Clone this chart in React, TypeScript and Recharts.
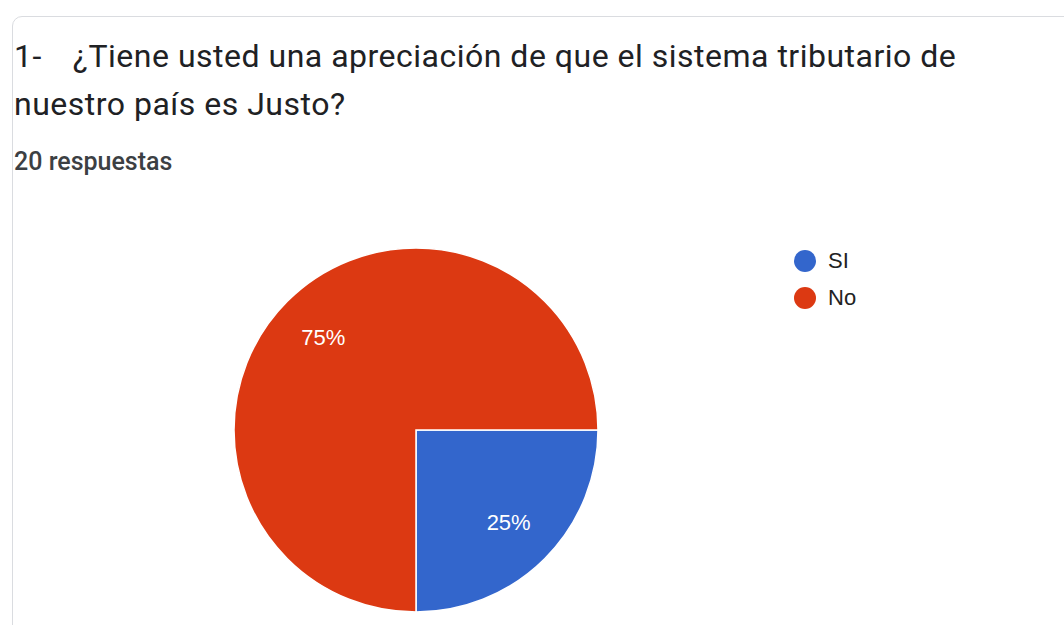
import React from "react";
import { PieChart, Pie, Cell, Legend } from "recharts";

const categories = ["SI", "No"];
const counts = [5, 15];
const colors = ["#3366cc", "#dc3912"];

const data = categories.map((name, i) => ({ name, value: counts[i] }));

const RADIAN = Math.PI / 180;

const renderLabel = (props: any) => {
  const { cx, cy, midAngle, outerRadius, percent } = props;
  const r = outerRadius * 0.72;
  const x = cx + r * Math.cos(-midAngle * RADIAN);
  const y = cy + r * Math.sin(-midAngle * RADIAN);
  return (
    <text
      x={x}
      y={y}
      fill="#ffffff"
      textAnchor="middle"
      dominantBaseline="central"
      fontFamily="'Liberation Sans', Arial, sans-serif"
      fontSize={22}
    >
      {`${Math.round(percent * 100)}%`}
    </text>
  );
};

const renderLegend = () => (
  <div style={{ fontFamily: "'Liberation Sans', Arial, sans-serif", fontSize: 22, color: "#222" }}>
    {data.map((d, i) => (
      <div key={d.name} style={{ display: "flex", alignItems: "center", height: 37 }}>
        <span
          style={{
            display: "inline-block",
            width: 22,
            height: 22,
            borderRadius: "50%",
            background: colors[i],
            marginRight: 12,
          }}
        />
        <span>{d.name}</span>
      </div>
    ))}
  </div>
);

export default function App() {
  return (
    <div style={{ position: "absolute", left: 0, top: 0, width: 1064, height: 625, overflow: "hidden", background: "#fff" }}>
      <div
        style={{
          position: "absolute",
          left: 12,
          top: 16,
          width: 1200,
          height: 800,
          border: "1.5px solid #dadce0",
          borderRadius: 10,
        }}
      />
      <div
        style={{
          position: "absolute",
          left: 14,
          top: 32,
          fontFamily: "Roboto, sans-serif",
          fontSize: 32,
          letterSpacing: 0.5,
          lineHeight: "48px",
          color: "#202124",
          whiteSpace: "nowrap",
        }}
      >
        1-<span style={{ marginLeft: 31 }}>¿Tiene usted una apreciación de que el sistema tributario de</span>
        <br />
        nuestro país es Justo?
      </div>
      <div
        style={{
          position: "absolute",
          left: 14,
          top: 147,
          fontFamily: "Roboto, sans-serif",
          fontSize: 25,
          fontWeight: 500,
          color: "#3c4043",
        }}
      >
        20 respuestas
      </div>
      <div style={{ position: "absolute", left: 0, top: 0 }}>
        <PieChart width={1064} height={625} margin={{ top: 0, right: 0, bottom: 0, left: 0 }}>
          <Pie
            data={data}
            dataKey="value"
            nameKey="name"
            cx={416}
            cy={430}
            outerRadius={182}
            startAngle={0}
            endAngle={-360}
            stroke="#ffffff"
            strokeWidth={1.5}
            label={renderLabel}
            labelLine={false}
            isAnimationActive={false}
          >
            {data.map((d, i) => (
              <Cell key={d.name} fill={colors[i]} />
            ))}
          </Pie>
          <Legend
            layout="vertical"
            verticalAlign="top"
            align="right"
            content={renderLegend}
            wrapperStyle={{ left: 794, top: 242, width: 200 }}
          />
        </PieChart>
      </div>
    </div>
  );
}
